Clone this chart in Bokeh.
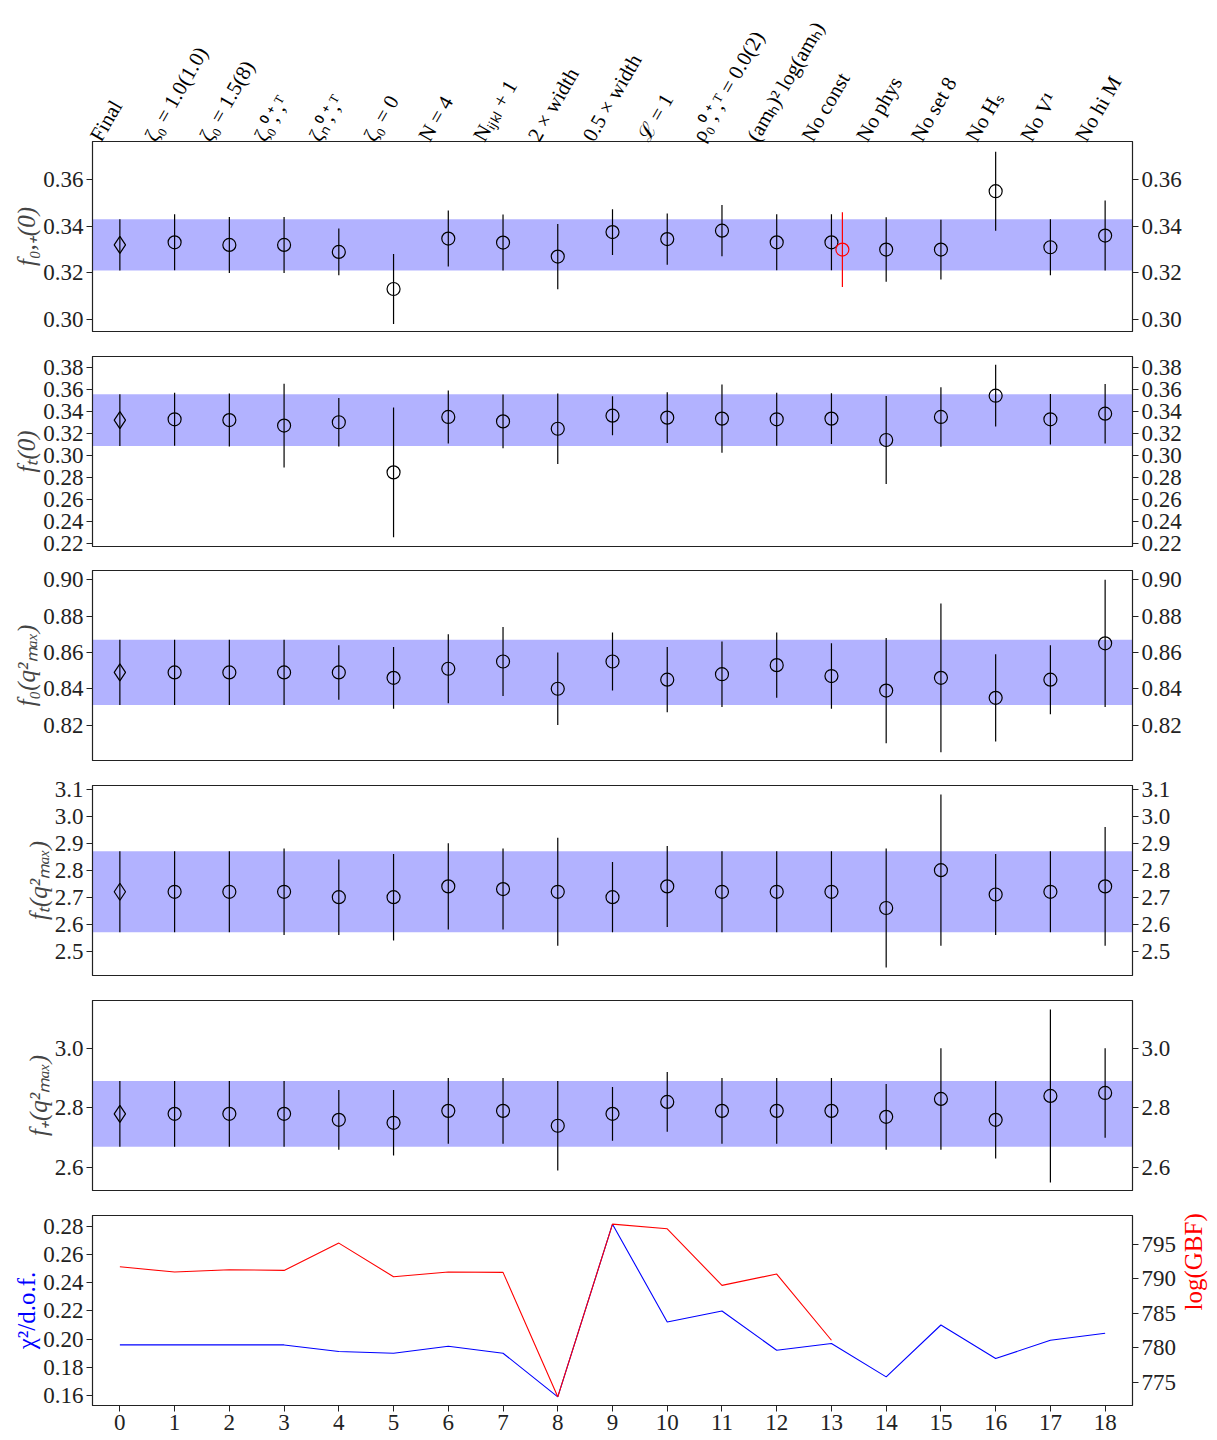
import math
from bokeh.plotting import figure
from bokeh.layouts import column
from bokeh.models import (ColumnDataSource, Range1d, LinearAxis, FixedTicker,
                          PrintfTickFormatter, BoxAnnotation)
from bokeh.embed import file_html
from bokeh.resources import INLINE

# ---------------- data ----------------
variants = list(range(19))
variant_labels = [
    "Final", "ζ₀ = 1.0(1.0)", "ζ₀ = 1.5(8)", "ζ₀⁰,⁺,ᵀ", "ζₙ⁰,⁺,ᵀ", "ζ₀ = 0",
    "N = 4", "Nᵢⱼₖₗ + 1", "2 × width", "0.5 × width", "ℒ = 1",
    "ρ₀⁰,⁺,ᵀ = 0.0(2)", "(amₕ)² log(amₕ)", "No const", "No phys",
    "No set 8", "No Hₛ", "No V¹", "No hi M",
]

f0p0_val = [0.332, 0.3331, 0.332, 0.332, 0.329, 0.3131, 0.3347, 0.333, 0.327, 0.3375,
            0.3345, 0.3381, 0.3331, 0.3331, 0.330, 0.330, 0.355, 0.331, 0.336]
f0p0_err = [0.011, 0.012, 0.012, 0.012, 0.010, 0.015, 0.012, 0.012, 0.014, 0.0098,
            0.011, 0.011, 0.012, 0.012, 0.0138, 0.0128, 0.0169, 0.012, 0.015]
f0p0_alt_x = [13.2]
f0p0_alt_val = [0.330]
f0p0_alt_err = [0.016]

fT0_val = [0.332, 0.3327, 0.332, 0.327, 0.330, 0.2845, 0.3348, 0.3308, 0.3241, 0.336,
           0.3342, 0.3333, 0.3327, 0.3333, 0.3139, 0.3348, 0.3541, 0.3327, 0.3378]
fT0_err = [0.0235, 0.024, 0.024, 0.038, 0.022, 0.059, 0.024, 0.0245, 0.032, 0.0177,
           0.023, 0.031, 0.024, 0.023, 0.040, 0.027, 0.028, 0.023, 0.027]

f0max_val = [0.849, 0.849, 0.849, 0.849, 0.849, 0.846, 0.851, 0.855, 0.840, 0.855,
             0.845, 0.848, 0.853, 0.847, 0.839, 0.846, 0.835, 0.845, 0.865]
f0max_err = [0.018, 0.018, 0.018, 0.018, 0.015, 0.017, 0.019, 0.019, 0.020, 0.016,
             0.018, 0.018, 0.018, 0.018, 0.029, 0.041, 0.024, 0.019, 0.035]

fTmax_val = [2.72, 2.72, 2.72, 2.72, 2.70, 2.70, 2.74, 2.73, 2.72, 2.70,
             2.74, 2.72, 2.72, 2.72, 2.66, 2.80, 2.71, 2.72, 2.74]
fTmax_err = [0.15, 0.15, 0.15, 0.16, 0.14, 0.16, 0.16, 0.15, 0.20, 0.13,
             0.15, 0.15, 0.15, 0.15, 0.22, 0.28, 0.15, 0.15, 0.22]

fpmax_val = [2.78, 2.78, 2.78, 2.78, 2.76, 2.75, 2.79, 2.79, 2.74, 2.78,
             2.82, 2.79, 2.79, 2.79, 2.77, 2.83, 2.76, 2.84, 2.85]
fpmax_err = [0.11, 0.11, 0.11, 0.11, 0.10, 0.11, 0.11, 0.11, 0.15, 0.09,
             0.10, 0.11, 0.11, 0.11, 0.11, 0.17, 0.13, 0.29, 0.15]

chi2_dof = [0.1958, 0.1958, 0.1958, 0.1958, 0.1911, 0.1899, 0.1949, 0.1899, 0.1588, 0.2819,
            0.2122, 0.2200, 0.1920, 0.1968, 0.1730, 0.2100, 0.1861, 0.1991, 0.2041]
log_gbf = [791.76, 790.99, 791.33, 791.23, 795.18, 790.31, 790.99, 790.94, 772.92, 797.93,
           797.25, 789.06, 790.70, 781.11]

f0p0_ticks = [0.30, 0.32, 0.34, 0.36]
fT0_ticks = [0.22, 0.24, 0.26, 0.28, 0.30, 0.32, 0.34, 0.36, 0.38]
f0max_ticks = [0.82, 0.84, 0.86, 0.88, 0.90]
fTmax_ticks = [2.5, 2.6, 2.7, 2.8, 2.9, 3.0, 3.1]
fpmax_ticks = [2.6, 2.8, 3.0]
chi2_ticks = [0.16, 0.18, 0.20, 0.22, 0.24, 0.26, 0.28]
gbf_ticks = [775, 780, 785, 790, 795]

# ---------------- style ----------------
FONT = "Liberation Serif"
TICK_FS = "23px"
LABEL_FS = "25px"
FRAME_W = 1040
FRAME_H = 190
XR = (-0.5, 18.5)


def style_axis(ax):
    ax.major_label_text_font = FONT
    ax.major_label_text_font_size = TICK_FS
    ax.major_label_text_color = "#222222"
    ax.axis_label_text_font = FONT
    ax.axis_label_text_font_size = LABEL_FS
    ax.axis_label_text_font_style = "normal"
    ax.axis_line_color = "#222222"
    ax.major_tick_line_color = "#222222"
    ax.major_tick_out = 6
    ax.major_tick_in = 0
    ax.minor_tick_out = 0
    ax.minor_tick_in = 0
    ax.major_label_standoff = 3
    ax.axis_label_standoff = 0


def make_panel(vals, errs, ticks, fmt, yr, ylabel, top_pad, bottom_pad, xaxis=None):
    p = figure(frame_width=FRAME_W, frame_height=FRAME_H,
               x_range=Range1d(*XR), y_range=Range1d(*yr),
               x_axis_location=xaxis, y_axis_location="left",
               output_backend="svg", toolbar_location=None,
               min_border_left=92, min_border_right=80,
               min_border_top=top_pad, min_border_bottom=bottom_pad)
    p.grid.visible = False
    p.outline_line_color = "#222222"
    p.outline_line_width = 1.2
    p.background_fill_color = "white"
    p.border_fill_color = "white"

    p.yaxis.ticker = FixedTicker(ticks=ticks)
    p.yaxis.formatter = PrintfTickFormatter(format=fmt)
    p.yaxis.axis_label = ylabel
    style_axis(p.yaxis[0])
    p.yaxis.axis_label_text_font_style = "italic"

    right = LinearAxis(ticker=FixedTicker(ticks=ticks),
                       formatter=PrintfTickFormatter(format=fmt))
    style_axis(right)
    p.add_layout(right, "right")

    if vals is not None:
        band = BoxAnnotation(bottom=vals[0] - errs[0], top=vals[0] + errs[0],
                             fill_color="blue", fill_alpha=0.3, line_alpha=0,
                             level="underlay")
        p.add_layout(band)
        lo = [v - e for v, e in zip(vals, errs)]
        hi = [v + e for v, e in zip(vals, errs)]
        src = ColumnDataSource(dict(x=variants, y=vals, lo=lo, hi=hi))
        p.segment(x0="x", y0="lo", x1="x", y1="hi", source=src,
                  line_color="black", line_width=1.2)
        p.scatter(x=variants[:1], y=vals[:1], marker="diamond", size=17,
                  fill_alpha=0, line_color="black", line_width=1.2)
        p.scatter(x=variants[1:], y=vals[1:], marker="circle", size=13,
                  fill_alpha=0, line_color="black", line_width=1.2)
    return p


# panel 1 with top labels
p1 = make_panel(f0p0_val, f0p0_err, f0p0_ticks, "%.2f", (0.2949, 0.3763),
                "f₀,₊(0)", 141, 12)
alt_lo = [v - e for v, e in zip(f0p0_alt_val, f0p0_alt_err)]
alt_hi = [v + e for v, e in zip(f0p0_alt_val, f0p0_alt_err)]
p1.segment(x0=f0p0_alt_x, y0=alt_lo, x1=f0p0_alt_x, y1=alt_hi,
           line_color="red", line_width=1.2)
p1.scatter(x=f0p0_alt_x, y=f0p0_alt_val, marker="circle", size=13,
           fill_alpha=0, line_color="red", line_width=1.2)
p1.extra_x_ranges = {"labels": Range1d(XR[0] + 0.45, XR[1] + 0.45)}
top_ax = LinearAxis(x_range_name="labels", ticker=FixedTicker(ticks=variants),
                    major_label_overrides={i: s for i, s in zip(variants, variant_labels)})
style_axis(top_ax)
top_ax.major_label_text_font_size = "21px"
top_ax.major_label_text_color = "black"
top_ax.major_tick_out = 0
top_ax.axis_line_alpha = 0
top_ax.major_label_orientation = math.pi / 3
top_ax.major_label_standoff = 2
p1.add_layout(top_ax, "above")

p2 = make_panel(fT0_val, fT0_err, fT0_ticks, "%.2f", (0.2172, 0.3897),
                "fₜ(0)", 13, 12)
p3 = make_panel(f0max_val, f0max_err, f0max_ticks, "%.2f", (0.8005, 0.9051),
                "f₀(q²ₘₐₓ)", 12, 12)
p4 = make_panel(fTmax_val, fTmax_err, fTmax_ticks, "%.1f", (2.41, 3.1136),
                "fₜ(q²ₘₐₓ)", 13, 12)
p5 = make_panel(fpmax_val, fpmax_err, fpmax_ticks, "%.1f", (2.523, 3.16),
                "f₊(q²ₘₐₓ)", 13, 12)

# bottom panel: chi2 and log(GBF)
p6 = figure(frame_width=FRAME_W, frame_height=FRAME_H,
            x_range=Range1d(*XR), y_range=Range1d(0.1526, 0.2881),
            x_axis_location="below", y_axis_location="left",
            output_backend="svg", toolbar_location=None,
            min_border_left=92, min_border_right=80,
            min_border_top=13, min_border_bottom=32)
p6.grid.visible = False
p6.outline_line_color = "#222222"
p6.outline_line_width = 1.2
p6.xaxis.ticker = FixedTicker(ticks=variants)
style_axis(p6.xaxis[0])
p6.yaxis.ticker = FixedTicker(ticks=chi2_ticks)
p6.yaxis.formatter = PrintfTickFormatter(format="%.2f")
p6.yaxis.axis_label = "χ²/d.o.f."
style_axis(p6.yaxis[0])
p6.yaxis.axis_label_text_color = "blue"
p6.extra_y_ranges = {"gbf": Range1d(771.66, 799.18)}
gax = LinearAxis(y_range_name="gbf", ticker=FixedTicker(ticks=gbf_ticks),
                 formatter=PrintfTickFormatter(format="%d"), axis_label="log(GBF)")
style_axis(gax)
gax.axis_label_text_color = "red"
gax.axis_label_orientation = math.pi / 2
gax.axis_label_standoff = 14
p6.add_layout(gax, "right")
p6.line(x=variants, y=chi2_dof, line_color="blue", line_width=1.1)
p6.line(x=variants[:len(log_gbf)], y=log_gbf, line_color="red", line_width=1.1,
        y_range_name="gbf")

layout = column(p1, p2, p3, p4, p5, p6, spacing=0)
open("out.html", "w").write(file_html(layout, INLINE))
